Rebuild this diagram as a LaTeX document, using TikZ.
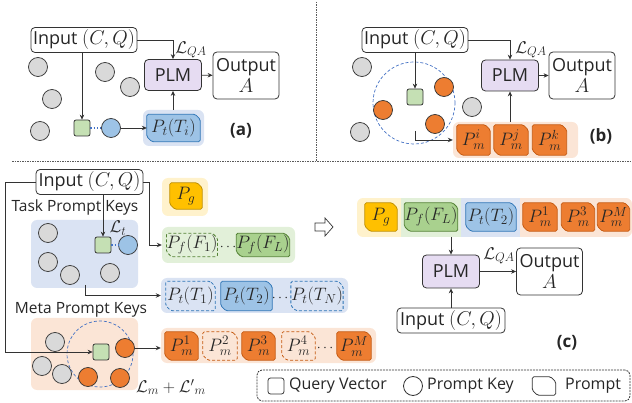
\RequirePackage{fix-cm}
\documentclass[tikz,border=0pt]{standalone}
\usepackage{fontspec}
\setmainfont{Open Sans}
\DeclareMathSizes{18}{20}{14.5}{10.5}
\DeclareMathSizes{17}{18}{13.2}{10}
\DeclareMathSizes{15}{17}{12.5}{9}
\usetikzlibrary{arrows.meta,fit}
\pgfdeclarelayer{bgl}
\pgfdeclarelayer{midl}
\pgfsetlayers{bgl,midl,main}
\definecolor{ink}{HTML}{262626}
\definecolor{edge}{HTML}{333333}
\definecolor{keygray}{HTML}{D9D9D9}
\definecolor{qgreen}{HTML}{C5E0B4}
\definecolor{kblue}{HTML}{9DC3E6}
\definecolor{lblue}{HTML}{4472C4}
\definecolor{pbluef}{HTML}{9DC3E6}
\definecolor{pbluee}{HTML}{2E75B6}
\definecolor{bluebg}{HTML}{DAE3F3}
\definecolor{porange}{HTML}{ED7D31}
\definecolor{porangee}{HTML}{C55A11}
\definecolor{orangebg}{HTML}{FBE5D6}
\definecolor{pgreenf}{HTML}{A9D18E}
\definecolor{pgreene}{HTML}{548235}
\definecolor{greenbg}{HTML}{E2F0D9}
\definecolor{pyellowf}{HTML}{FFC000}
\definecolor{pyellowe}{HTML}{BF9000}
\definecolor{yellowbg}{HTML}{FFF2CC}
\definecolor{plmfill}{HTML}{E6DCF2}
\definecolor{sepc}{HTML}{5A5A5A}

\newcommand{\promptbox}[7]{%
  \node[ptext, minimum width=#4pt, minimum height=#5pt] (#1) at (#2,#3) {#7};
  \begin{pgfonlayer}{midl}
    \path[pshape,#6] ([xshift=-5pt]#1.north east) -- ([yshift=-5pt]#1.north east) -- (#1.south east) -- ([xshift=5pt]#1.south west) -- ([yshift=5pt]#1.south west) -- (#1.north west) -- cycle;
  \end{pgfonlayer}}

\begin{document}
\begin{tikzpicture}[x=1pt,y=-1pt,
  font=\fontsize{18}{23}\selectfont, text=ink,
  box/.style={draw=edge, line width=0.8pt, rounded corners=4pt, fill=white, inner sep=1pt, align=center},
  inbox/.style={box, minimum width=106pt, minimum height=25pt},
  plmbox/.style={box, fill=plmfill, minimum width=57pt, minimum height=31pt},
  outbox/.style={box, minimum width=66pt, minimum height=47pt},
  key/.style={circle, draw=edge, line width=0.75pt, minimum size=19pt, inner sep=0pt},
  gkey/.style={key, fill=keygray},
  bkey/.style={key, fill=kblue},
  okey/.style={key, fill=porange},
  qvec/.style={draw=edge, line width=0.75pt, fill=qgreen, rounded corners=2pt, minimum size=16pt, inner sep=0pt},
  arr/.style={draw=edge, line width=0.7pt, -{Stealth[length=5pt,width=4.5pt]}},
  dotl/.style={draw=lblue, line width=1.3pt, dotted},
  dcirc/.style={circle, draw=lblue, line width=0.7pt, dash pattern=on 3pt off 2pt, inner sep=0pt},
  ptext/.style={inner sep=0pt, font=\fontsize{17}{20}\selectfont},
  dotsnode/.style={inner sep=0pt, font=\fontsize{14}{14}\selectfont},
  pshape/.style={line width=0.8pt, rounded corners=1.5pt},
  psblue/.style={fill=pbluef, draw=pbluee},
  psbluedash/.style={draw=pbluee, dash pattern=on 3pt off 2pt},
  psorange/.style={fill=porange, draw=porangee},
  psorangedash/.style={draw=porangee, dash pattern=on 3pt off 2pt},
  psgreen/.style={fill=pgreenf, draw=pgreene},
  psgreendash/.style={draw=pgreene, dash pattern=on 3pt off 2pt},
  psyellow/.style={fill=pyellowf, draw=pyellowe},
  bgpanel/.style={rounded corners=6pt, inner sep=0pt, draw=none},
  lbl/.style={font=\fontsize{15}{17}\selectfont},
  tag/.style={font=\fontsize{17}{20}\selectfont\bfseries},
  keytitle/.style={font=\fontsize{15.5}{18}\selectfont},
  legtext/.style={font=\fontsize{16}{18}\selectfont, anchor=west, inner sep=0pt},
  sep/.style={draw=sepc, line width=0.8pt, dash pattern=on 1.5pt off 1pt}
]
\useasboundingbox (0,0) rectangle (632,403);

% separators
\coordinate (s1) at (316,2);
\coordinate (s2) at (316,161);
\coordinate (s3) at (12,161);
\coordinate (s4) at (632,161);
\draw[sep] (s1) -- (s2);
\draw[sep] (s3) -- (s4);

%%%%%%%% panel (a)
\node[inbox] (ina) at (84,40) {Input $(C,Q)$};
\node[plmbox] (plma) at (173,75) {PLM};
\node[outbox] (outa) at (246,75.5) {Output\\[-2pt]$A$};
\node[lbl] (lqaa) at (191,50) {$\mathcal{L}_{QA}$};
\node[gkey] (ga1) at (38,67) {};
\node[gkey] (ga2) at (105,72) {};
\node[gkey] (ga3) at (130,87) {};
\node[gkey] (ga4) at (52,99) {};
\node[gkey] (ga5) at (40,131) {};
\node[qvec] (qa) at (82,128) {};
\node[bkey] (ba) at (111,128) {};
\begin{pgfonlayer}{bgl}
\node[bgpanel, fill=bluebg, fit={(143,110) (204,146)}] (abg) {};
\end{pgfonlayer}
\promptbox{pta}{173.5}{128}{53}{27}{psblue}{$P_t(T_i)$}
\node[tag] (taga) at (241,131) {(a)};
\draw[arr] (ina.east) -| (plma.north);
\draw[arr] (plma) -- (outa);
\draw[arr] (ina.south -| qa) -- (qa.north);
\draw[dotl] (qa) -- (ba);
\draw[arr] (ba) -- (pta);
\draw[arr] (abg.north -| plma) -- (plma.south);

%%%%%%%% panel (b)
\node[inbox] (inb) at (415,40) {Input $(C,Q)$};
\node[plmbox] (plmb) at (510,75.5) {PLM};
\node[outbox] (outb) at (582,75.5) {Output\\[-2pt]$A$};
\node[lbl] (lqab) at (531,50) {$\mathcal{L}_{QA}$};
\node[dcirc, minimum size=82pt] (dcb) at (414,103) {};
\node[gkey] (gb1) at (362,67) {};
\node[gkey] (gb2) at (472,107) {};
\node[gkey] (gb3) at (360,132) {};
\node[okey] (ob1) at (444,87) {};
\node[okey] (ob2) at (383,110) {};
\node[okey] (ob3) at (435,124) {};
\node[qvec] (qb) at (415,97) {};
\begin{pgfonlayer}{bgl}
\node[bgpanel, fill=orangebg, fit={(453,122) (578,158)}] (bbg) {};
\end{pgfonlayer}
\promptbox{pmi}{473.5}{140}{33}{30}{psorange}{$P_m^i$}
\promptbox{pmj}{511}{140}{34}{30}{psorange}{$P_m^j$}
\promptbox{pmk}{549.5}{140}{34}{30}{psorange}{$P_m^k$}
\node[tag] (tagb) at (601,136) {(b)};
\draw[arr] (inb.east) -| (plmb.north);
\draw[arr] (plmb) -- (outb);
\draw[arr] (inb.south -| qb) -- (qb.north);
\coordinate (bst) at (415,131);
\draw[arr] (bst) |- (bbg.west);
\draw[arr] (bbg.north -| plmb) -- (plmb.south);

%%%%%%%% panel (c) left
\node[inbox, minimum width=107pt] (inc) at (89.5,182) {Input $(C,Q)$};
\node[keytitle] (ttl1) at (75,207) {Task Prompt Keys};
\node[keytitle] (ttl2) at (81,310) {Meta Prompt Keys};
\begin{pgfonlayer}{bgl}
\node[bgpanel, fill=bluebg, fit={(31,220) (138,288)}] (tkbg) {};
\node[bgpanel, fill=greenbg, fit={(162,227) (295,263)}] (fbg) {};
\node[bgpanel, fill=yellowbg, fit={(162,178) (208,216)}] (gbg) {};
\node[bgpanel, fill=bluebg, fit={(161,278) (348,313)}] (tpbg) {};
\node[bgpanel, fill=orangebg, fit={(31,318) (138,390)}] (mkbg) {};
\node[bgpanel, fill=orangebg, fit={(161,328) (376,363)}] (mpbg) {};
\end{pgfonlayer}
\node[gkey] (gt1) at (48,233) {};
\node[gkey] (gt2) at (48,262) {};
\node[gkey] (gt3) at (70,275) {};
\node[gkey] (gt4) at (110,273) {};
\node[qvec] (qt) at (103,245) {};
\node[bkey] (bt) at (128,245) {};
\node[lbl] (ltl) at (118,228) {$\mathcal{L}_t$};
\promptbox{cpg}{186}{196}{32}{26}{psyellow}{$P_g$}
\promptbox{pf1}{192}{245}{50}{23}{psgreendash}{$P_f(F_1)$}
\node[dotsnode] (fdots) at (228,247) {$\cdots$};
\promptbox{pfl}{263}{245}{50}{23}{psgreen}{$P_f(F_L)$}
\promptbox{pt1}{190.5}{296}{49}{29}{psbluedash}{$P_t(T_1)$}
\promptbox{pt2}{246.5}{296}{51}{29}{psblue}{$P_t(T_2)$}
\node[dotsnode] (tdots) at (280,298) {$\cdots$};
\promptbox{ptn}{317}{296}{50}{29}{psbluedash}{$P_t(T_N)$}
\node[dcirc, minimum size=66pt] (dcm) at (100,354) {};
\node[gkey] (gm1) at (55,342) {};
\node[gkey] (gm2) at (42,366) {};
\node[gkey] (gm3) at (62,374) {};
\node[okey] (om1) at (125,348) {};
\node[okey] (om2) at (88,377) {};
\node[okey] (om3) at (120,378) {};
\node[qvec] (qm) at (101,352) {};
\node[lbl] (lml) at (171,387) {$\mathcal{L}_m+{\mathcal{L}'}_{m}$};
\promptbox{pm1}{181.5}{346}{33}{28}{psorange}{$P_m^1$}
\promptbox{pm2}{220}{346}{34}{28}{psorangedash}{$P_m^2$}
\promptbox{pm3}{258.5}{346}{33}{28}{psorange}{$P_m^3$}
\promptbox{pm4}{298.5}{346}{33}{28}{psorangedash}{$P_m^4$}
\node[dotsnode] (mdots) at (325,348) {$\cdots$};
\promptbox{pmM}{354}{346}{34}{28}{psorange}{$P_m^M$}
\coordinate (lc) at (5,182);
\coordinate (rc) at (149,182);
\coordinate (tks) at (85,285);
\draw[arr] (inc.west) -- (lc) |- (qm.west);
\draw[arr] (inc.east) -- (rc) |- (fbg.west);
\draw[arr] (inc.south -| qt) -- (qt.north);
\draw[dotl] (qt) -- (bt);
\draw[arr] (tks) |- (tpbg.west);
\draw[arr] (om1) -- (om1 -| mpbg.west);

% hollow arrow
\draw[line width=0.7pt, draw=edge, fill=white] (315,223) -- (325,223) -- (325,218) -- (333,227) -- (325,236) -- (325,231) -- (315,231) -- cycle;

%%%%%%%% panel (c) right
\begin{pgfonlayer}{bgl}
\begin{scope}
\clip[rounded corners=6pt] (357,198) rectangle (632,237);
\fill[yellowbg] (357,198) rectangle (401,237);
\fill[greenbg] (401,198) rectangle (461,237);
\fill[bluebg] (461,198) rectangle (520,237);
\fill[orangebg] (520,198) rectangle (632,237);
\end{scope}
\end{pgfonlayer}
\promptbox{cg}{381}{217}{32}{28}{psyellow}{$P_g$}
\promptbox{cf}{431}{217}{50}{28}{psgreen}{$P_f(F_L)$}
\promptbox{ct}{491}{217}{50}{28}{psblue}{$P_t(T_2)$}
\promptbox{cm1}{540}{217}{34}{28}{psorange}{$P_m^1$}
\promptbox{cm3}{578}{217}{33}{28}{psorange}{$P_m^3$}
\promptbox{cmM}{613.5}{217}{32}{28}{psorange}{$P_m^M$}
\node[plmbox, minimum height=33pt] (plmc) at (451,271.5) {PLM};
\node[outbox] (outc) at (549.5,271.5) {Output\\[-2pt]$A$};
\node[inbox, minimum width=108pt] (inc2) at (451,320.5) {Input $(C,Q)$};
\node[lbl] (lqac) at (499,256) {$\mathcal{L}_{QA}$};
\node[tag] (tagc) at (567,343) {(c)};
\coordinate (cbs) at (451,237);
\draw[arr] (cbs) -- (plmc.north);
\draw[arr] (plmc) -- (outc);
\draw[arr] (inc2) -- (plmc);

%%%%%%%% legend
\node[draw=edge, line width=0.8pt, dash pattern=on 2pt off 1pt, rounded corners=5pt, inner sep=0pt, fit={(257,370) (630,401)}] (leg) {};
\node[draw=edge, line width=0.8pt, rounded corners=2.5pt, minimum size=16pt, inner sep=0pt] (lq) at (276,386) {};
\node[legtext] (lqt) at (289,386) {Query Vector};
\node[circle, draw=edge, line width=0.8pt, minimum size=19pt, inner sep=0pt] (lk) at (413,386) {};
\node[legtext] (lkt) at (427,386) {Prompt Key};
\promptbox{lp}{544}{386}{23}{18}{draw=edge, fill=white}{}
\node[legtext] (lpt) at (565,386) {Prompt};
\end{tikzpicture}
\end{document}
